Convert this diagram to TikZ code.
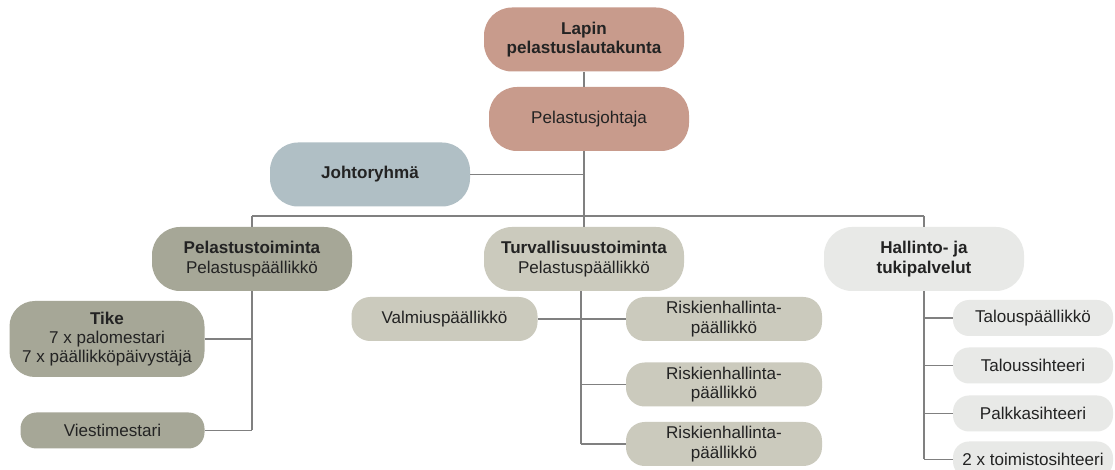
\documentclass[tikz,border=0pt]{standalone}
\usepackage{fontspec}
\setmainfont{Liberation Sans}
\definecolor{rose}{RGB}{200,155,140}
\definecolor{steel}{RGB}{176,191,197}
\definecolor{olive}{RGB}{166,167,151}
\definecolor{stone}{RGB}{203,202,189}
\definecolor{mist}{RGB}{232,233,231}
\definecolor{ink}{RGB}{35,35,35}
\definecolor{wirec}{RGB}{128,128,128}
\tikzset{
 box/.style={rectangle, rounded corners=21pt, inner sep=0pt, align=center, text=ink,
   font=\fontsize{12.8}{14.5}\selectfont, minimum width=150pt, minimum height=48pt},
 midbox/.style={box, rounded corners=14pt, minimum height=33pt, minimum width=147pt},
 smallbox/.style={box, rounded corners=12pt, minimum height=27pt, minimum width=120pt},
 wire/.style={draw=wirec, line width=0.9pt}
}
\begin{document}
\begin{tikzpicture}[x=0.75pt,y=-0.75pt]
\useasboundingbox (0,0) rectangle (1115,470);
\fill[white] (0,0) rectangle (1115,470);
\clip (0,0) rectangle (1115,470);
% level 0-1
\node[box, fill=rose] (lapin) at (584,39.5) {\textbf{Lapin}\\\textbf{pelastuslautakunta}};
\node[box, fill=rose] (pjoht) at (589,119) {Pelastusjohtaja};
\node[box, fill=steel] (johto) at (370,174.5) {\textbf{Johtoryhmä}};
% level 2
\node[box, fill=olive] (pelt) at (252,259) {\textbf{Pelastustoiminta}\\Pelastuspäällikkö};
\node[box, fill=stone] (turv) at (584,259) {\textbf{Turvallisuustoiminta}\\Pelastuspäällikkö};
\node[box, fill=mist] (hall) at (924,259) {\textbf{Hallinto- ja}\\\textbf{tukipalvelut}};
% level 3 left
\node[box, rounded corners=19pt, fill=olive, minimum width=146.25pt, minimum height=57pt] (tike) at (107,339)
  {\textbf{Tike}\\7 x palomestari\\7 x päällikköpäivystäjä};
\node[smallbox, fill=olive, minimum width=138pt] (viesti) at (112.5,430.5) {Viestimestari};
% level 3 middle
\node[midbox, fill=stone, minimum width=139.5pt] (valm) at (444.5,319) {Valmiuspäällikkö};
\node[midbox, fill=stone] (risk1) at (724,319) {Riskienhallinta-\\päällikkö};
\node[midbox, fill=stone] (risk2) at (724,384.5) {Riskienhallinta-\\päällikkö};
\node[midbox, fill=stone] (risk3) at (724,444) {Riskienhallinta-\\päällikkö};
% level 3 right
\node[smallbox, fill=mist] (talp) at (1033,318) {Talouspäällikkö};
\node[smallbox, fill=mist] (tals) at (1033,365.5) {Taloussihteeri};
\node[smallbox, fill=mist] (palk) at (1033,413.5) {Palkkasihteeri};
\node[smallbox, fill=mist] (toim) at (1033,459.5) {2 x toimistosihteeri};
% connectors
\coordinate (bus) at (584,216);
\coordinate (tv) at ([xshift=-2.25pt]turv.south);
\draw[wire] (lapin.south) -- (lapin.south |- pjoht.north);
\draw[wire] (lapin.south |- pjoht.south) -- (bus);
\draw[wire] (johto.east) -- (johto.east -| bus);
\draw[wire] (pelt.north |- bus) -- (hall.north |- bus);
\draw[wire] (pelt.north |- bus) -- (pelt.north);
\draw[wire] (bus) -- (turv.north);
\draw[wire] (hall.north |- bus) -- (hall.north);
\draw[wire] (pelt.south) -- (pelt.south |- viesti.east);
\draw[wire] (tike.east) -- (tike.east -| pelt.south);
\draw[wire] (viesti.east) -- (viesti.east -| pelt.south);
\draw[wire] (tv) -- (tv |- risk3.west);
\draw[wire] (valm.east) -- (risk1.west);
\draw[wire] (risk2.west) -- (risk2.west -| tv);
\draw[wire] (risk3.west) -- (risk3.west -| tv);
\draw[wire] (hall.south) -- (hall.south |- toim.west);
\draw[wire] (talp.west) -- (talp.west -| hall.south);
\draw[wire] (tals.west) -- (tals.west -| hall.south);
\draw[wire] (palk.west) -- (palk.west -| hall.south);
\draw[wire] (toim.west) -- (toim.west -| hall.south);
\end{tikzpicture}
\end{document}
